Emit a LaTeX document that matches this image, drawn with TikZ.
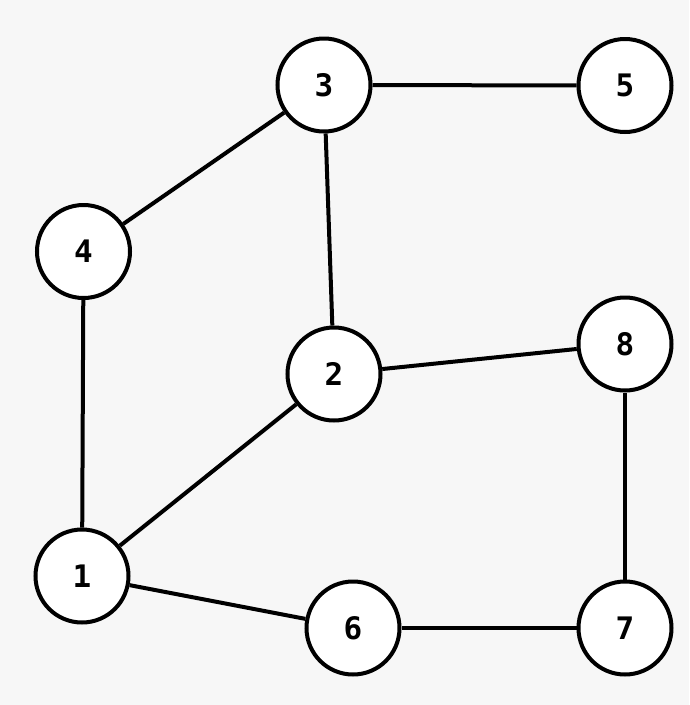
\documentclass[tikz,border=0pt]{standalone}
\usepackage{fontspec}
\setmainfont{DejaVu Sans Mono}
\definecolor{bgc}{RGB}{247,247,247}
\tikzset{
  vtx/.style={circle, draw=black, fill=white, line width=4pt, minimum size=93pt, inner sep=0pt, font=\fontsize{31}{31}\selectfont\bfseries},
  edge/.style={draw=black, line width=4pt}
}
\begin{document}
\begin{tikzpicture}[x=1pt,y=-1pt]
\fill[bgc] (0,0) rectangle (689,705);
\useasboundingbox (0,0) rectangle (689,705);
\node[vtx] (n1) at (82,576) {1};
\node[vtx] (n2) at (334,374) {2};
\node[vtx] (n3) at (324,85) {3};
\node[vtx] (n4) at (83.5,251.5) {4};
\node[vtx] (n5) at (625,85.5) {5};
\node[vtx] (n6) at (353,628) {6};
\node[vtx] (n7) at (625,628) {7};
\node[vtx] (n8) at (625,344) {8};
\draw[edge] (n3) -- (n5);
\draw[edge] (n3) -- (n4);
\draw[edge] (n3) -- (n2);
\draw[edge] (n4) -- (n1);
\draw[edge] (n2) -- (n1);
\draw[edge] (n2) -- (n8);
\draw[edge] (n8) -- (n7);
\draw[edge] (n1) -- (n6);
\draw[edge] (n6) -- (n7);
\end{tikzpicture}
\end{document}
